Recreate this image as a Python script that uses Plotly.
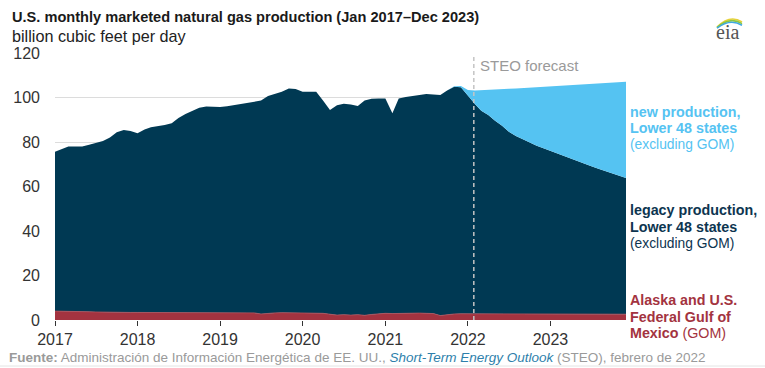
import pandas as pd
import plotly.graph_objects as go

# ---------------- data (billion cubic feet per day, monthly Jan 2017 - Dec 2023) ----------------
months = pd.date_range("2017-01-01", periods=84, freq="MS")

alaska_gom = [
    4.0, 4.0, 3.9, 3.9, 3.8, 3.7, 3.6, 3.5, 3.4, 3.4, 3.4, 3.4,
    3.4, 3.4, 3.4, 3.3, 3.3, 3.3, 3.3, 3.3, 3.3, 3.2, 3.3, 3.3,
    3.3, 3.3, 3.3, 3.3, 3.3, 3.2, 2.7, 3.1, 3.2, 3.3, 3.3, 3.3,
    3.3, 3.3, 3.2, 3.0, 2.6, 2.2, 2.4, 2.2, 2.4, 2.1, 2.5, 2.8,
    3.0, 2.9, 3.0, 3.0, 3.1, 3.1, 3.0, 2.9, 2.0, 2.4, 2.7, 2.8,
    2.8, 2.8, 2.8, 2.7, 2.7, 2.7, 2.7, 2.6, 2.5, 2.6, 2.7, 2.7,
    2.7, 2.7, 2.7, 2.7, 2.7, 2.6, 2.6, 2.6, 2.5, 2.6, 2.6, 2.6,
]

legacy_l48 = [
    71.6, 73.0, 74.1, 74.1, 74.2, 75.1, 76.0, 77.0, 78.6, 81.0, 82.0, 81.6,
    80.5, 82.2, 83.2, 83.7, 84.3, 85.1, 87.5, 89.3, 90.9, 92.2, 92.7, 92.5,
    92.4, 92.8, 93.3, 93.7, 94.2, 94.8, 95.9, 97.6, 98.4, 99.3, 100.8, 100.5,
    99.3, 99.3, 99.4, 95.5, 91.8, 94.3, 94.8, 94.6, 93.8, 96.5, 96.9, 96.8,
    96.6, 90.0, 96.6, 97.2, 97.6, 97.9, 98.6, 98.5, 99.1, 100.8, 102.1, 101.8,
    97.9, 94.3, 91.3, 89.4, 86.9, 84.6, 81.9, 80.1, 78.7, 77.1, 75.6, 74.5,
    73.3, 72.0, 70.8, 69.7, 68.6, 67.6, 66.5, 65.4, 64.5, 63.3, 62.2, 61.2,
]

new_l48 = [
    0, 0, 0, 0, 0, 0, 0, 0, 0, 0, 0, 0,
    0, 0, 0, 0, 0, 0, 0, 0, 0, 0, 0, 0,
    0, 0, 0, 0, 0, 0, 0, 0, 0, 0, 0, 0,
    0, 0, 0, 0, 0, 0, 0, 0, 0, 0, 0, 0,
    0, 0, 0, 0, 0, 0, 0, 0, 0, 0, 0.3, 0.6,
    2.7, 6.0, 9.1, 11.2, 13.9, 16.4, 19.3, 21.4, 23.1, 24.8, 26.4, 27.8,
    29.2, 30.7, 32.1, 33.4, 34.7, 36.0, 37.3, 38.6, 39.7, 41.0, 42.2, 43.3,
]

year_ticks = ["2017", "2018", "2019", "2020", "2021", "2022", "2023"]
y_ticks = [0, 20, 40, 60, 80, 100, 120]
forecast_start = "2022-01-27"

# ---------------- styling ----------------
NAVY = "#003953"
LIGHT = "#55c3f2"
RED = "#a33340"
FONT = "Liberation Sans, Arial, sans-serif"

W, H = 765, 368
L, R, T, B = 55, 139, 53, 48
PW, PH = W - L - R, H - T - B


def px(x):
    return (x - L) / PW


def py(y):
    return (H - B - y) / PH


fig = go.Figure()
fig.add_trace(go.Scatter(x=months, y=alaska_gom, stackgroup="s", mode="lines",
                         line=dict(width=0.8, color="#b5525c"), fillcolor=RED,
                         name="Alaska and U.S. Federal Gulf of Mexico", hoverinfo="skip"))
fig.add_trace(go.Scatter(x=months, y=legacy_l48, stackgroup="s", mode="lines",
                         line=dict(width=0), fillcolor=NAVY,
                         name="legacy production", hoverinfo="skip"))
fig.add_trace(go.Scatter(x=months, y=new_l48, stackgroup="s", mode="lines",
                         line=dict(width=0), fillcolor=LIGHT,
                         name="new production", hoverinfo="skip"))

fig.update_layout(
    width=W, height=H,
    margin=dict(l=L, r=R, t=T, b=B, pad=0),
    paper_bgcolor="white", plot_bgcolor="white",
    showlegend=False,
    font=dict(family=FONT, color="#333333", size=16),
    xaxis=dict(
        type="date",
        range=[months[0], months[-1]],
        tickvals=[f"{y}-01-01" for y in year_ticks],
        ticktext=year_ticks,
        ticks="outside", ticklen=5, tickcolor="#333333", tickwidth=1,
        showgrid=False, zeroline=False, showline=False,
        tickfont=dict(size=16, color="#333333"),
    ),
    yaxis=dict(
        range=[0, 120],
        tickvals=y_ticks,
        ticks="", showgrid=True, gridcolor="#dcdcdc", gridwidth=1,
        zeroline=False, showline=False,
        ticklabelstandoff=14,
        tickfont=dict(size=16, color="#333333"),
    ),
)

# forecast divider
fig.add_shape(type="line", xref="x", yref="y", x0=forecast_start, x1=forecast_start,
              y0=0, y1=119, line=dict(color="#c4c4c4", width=1.5, dash="4px,3px"), layer="above")
fig.add_annotation(xref="x", yref="paper", x=forecast_start, y=py(65), text="STEO forecast",
                   showarrow=False, xanchor="left", yanchor="middle", xshift=4,
                   font=dict(size=15, color="#9a9a9a"))

# title block
fig.add_annotation(xref="paper", yref="paper", x=px(10), y=py(17),
                   text="<b>U.S. monthly marketed natural gas production (Jan 2017–Dec 2023)</b>",
                   showarrow=False, xanchor="left", yanchor="middle",
                   font=dict(size=14.6, color="#1a1a1a"))
fig.add_annotation(xref="paper", yref="paper", x=px(10), y=py(36),
                   text="billion cubic feet per day",
                   showarrow=False, xanchor="left", yanchor="middle",
                   font=dict(size=16.2, color="#222222"))

# series labels
labels = [
    ("<b>new production,</b>", 112, LIGHT, 14.3),
    ("<b>Lower 48 states</b>", 128, LIGHT, 14.3),
    ("(excluding GOM)", 144, LIGHT, 13.8),
    ("<b>legacy production,</b>", 210, "#0d3550", 14.3),
    ("<b>Lower 48 states</b>", 227, "#0d3550", 14.3),
    ("(excluding GOM)", 243, "#0d3550", 13.8),
    ("<b>Alaska and U.S.</b>", 300, RED, 14.3),
    ("<b>Federal Gulf of</b>", 317, RED, 14.3),
    ("<b>Mexico</b> (GOM)", 333, RED, 14.3),
]
for txt, yy, col, sz in labels:
    fig.add_annotation(xref="paper", yref="paper", x=px(628), y=py(yy), text=txt,
                       showarrow=False, xanchor="left", yanchor="middle",
                       font=dict(size=sz, color=col))

# source line
fig.add_annotation(
    xref="paper", yref="paper", x=px(7), y=py(357),
    text=("<b>Fuente:</b> Administración de Información Energética de EE. UU., "
          "<i><span style='color:#2e7fab'>Short-Term Energy Outlook</span></i> (STEO), febrero de 2022"),
    showarrow=False, xanchor="left", yanchor="middle",
    font=dict(size=13.5, color="#9a9a9a"))
fig.add_shape(type="line", xref="paper", yref="paper", x0=px(0), x1=px(W), y0=py(366), y1=py(366),
              line=dict(color="#e4e4e4", width=1))

# eia logo
fig.add_annotation(xref="paper", yref="paper", x=px(727), y=py(32), text="eia",
                   showarrow=False, xanchor="center", yanchor="middle",
                   font=dict(size=20, color="#555555", family="Liberation Serif, DejaVu Serif, serif"))
for off, col in [(0, "#e6d23a"), (2, "#8cc63f"), (4, "#3fa9e0")]:
    x0, y0 = px(717), py(27 + off * 0.3)
    cx, cy = px(730), py(14 + off)
    x1, y1 = px(742), py(22 + off * 0.8)
    fig.add_shape(type="path", xref="paper", yref="paper",
                  path=f"M {x0},{y0} Q {cx},{cy} {x1},{y1}",
                  line=dict(color=col, width=1.6))

fig.write_html("out.html", config={"displayModeBar": False},
               post_script="document.body.style.margin='0px';")
